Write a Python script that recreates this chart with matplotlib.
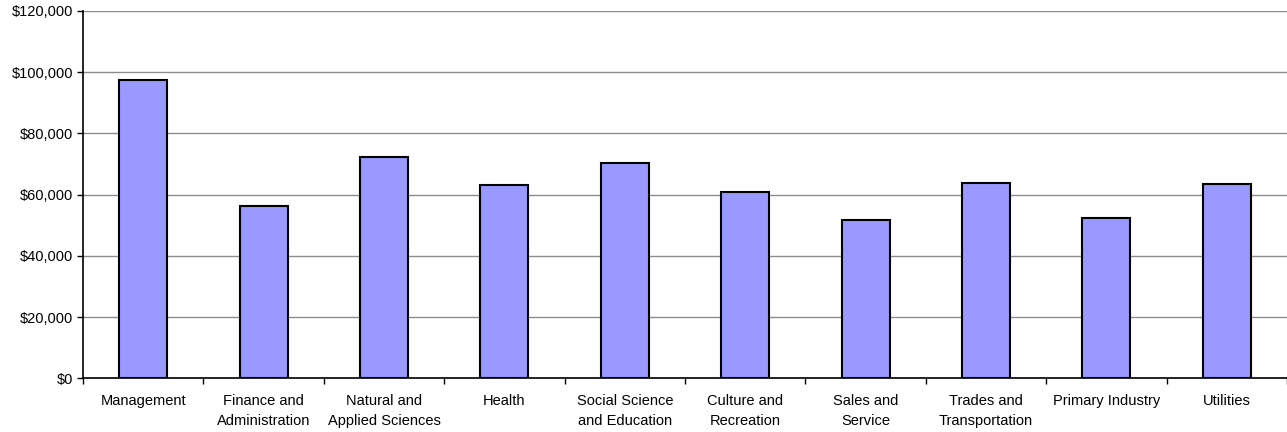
import matplotlib
matplotlib.use("Agg")
import matplotlib.pyplot as plt
from matplotlib.ticker import FuncFormatter, FixedLocator, NullFormatter
import numpy as np

plt.rcParams['font.family'] = ['Liberation Sans', 'DejaVu Sans']

categories = [
    "Management",
    "Finance and\nAdministration",
    "Natural and\nApplied Sciences",
    "Health",
    "Social Science\nand Education",
    "Culture and\nRecreation",
    "Sales and\nService",
    "Trades and\nTransportation",
    "Primary Industry",
    "Utilities",
]
salaries = [97300, 56400, 72200, 63050, 70500, 61000, 51800, 63700, 52450, 63600]
y_ticks = [0, 20000, 40000, 60000, 80000, 100000, 120000]

W, H = 1287, 432
fig = plt.figure(figsize=(W / 100, H / 100), dpi=100)
ax = fig.add_axes([83 / W, 1 - 378.3 / H, (W - 83) / W, (378.3 - 11) / H])

x = np.arange(len(categories))
ax.bar(x, salaries, width=0.40, color="#9999FF", edgecolor="black", linewidth=1.5, zorder=3)

ax.set_xlim(-0.5, len(categories) - 0.5)
ax.set_ylim(0, 120000)
ax.set_yticks(y_ticks)
ax.yaxis.set_major_formatter(FuncFormatter(lambda v, p: f"${v:,.0f}"))
ax.grid(axis="y", color="#8c8c8c", linewidth=1.0, zorder=0)

# category labels centered under bars, tick marks on the boundaries
ax.set_xticks(x)
ax.set_xticklabels(categories, fontsize=10.5, linespacing=1.6)
ax.tick_params(axis="x", which="major", length=0, pad=11)
ax.xaxis.set_minor_locator(FixedLocator(np.arange(-0.5, len(categories), 1.0)))
ax.xaxis.set_minor_formatter(NullFormatter())
ax.tick_params(axis="x", which="minor", length=4, width=1, color="black", direction="out")
ax.tick_params(axis="y", labelsize=10.5, length=4, width=1, color="black", pad=3)

for side in ("top", "right"):
    ax.spines[side].set_visible(False)
ax.spines["left"].set_linewidth(1.2)
ax.spines["bottom"].set_linewidth(1.2)

fig.savefig("out.png", dpi=100)
